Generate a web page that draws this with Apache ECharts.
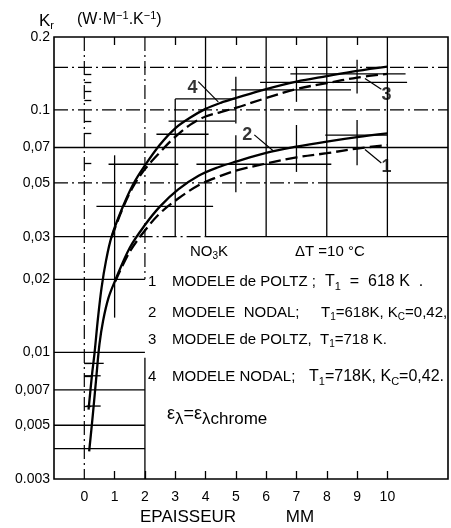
<!DOCTYPE html>
<html><head><meta charset="utf-8">
<script src="https://cdn.jsdelivr.net/npm/echarts@6/dist/echarts.min.js"></script>
<style>html,body{margin:0;padding:0;background:#fff}#c{width:451px;height:528px}</style>
</head><body><div id="c"></div>
<script>
// ---------- axes ----------
const xTickLabels = [0,1,2,3,4,5,6,7,8,9,10];
const xBottomTicks = [1,2,3,4,5,6,7,8,9,10];
const xTopTicks = [1,3,5,7,9];
const yTickValues = [0.2,0.1,0.07,0.05,0.03,0.02,0.01,0.007,0.005,0.003];
const yTickLabels = ['0.2','0.1','0,07','0,05','0,03','0,02','0,01','0,007','0,005','0.003'];
const yMinorTicks = [0.14,0.13,0.12,0.11,0.09,0.08,0.06,0.009,0.008,0.006];

// ---------- curves [x (mm), Kr] ----------
const curve1 = [[1.02,0.0196],[1.5,0.026],[2.0,0.0318],[2.5,0.0375],[3.1,0.0431],[3.77,0.0489],[4.42,0.053],[5,0.0562],[6,0.0601],[7,0.0637],[8,0.0663],[9,0.0693],[10,0.0716]];
const curve2 = [[0.16,0.0039],[0.28,0.0055],[0.40,0.0080],[0.50,0.0108],[0.62,0.0135],[0.80,0.0168],[1.02,0.0198],[1.5,0.027],[2.0,0.0335],[2.5,0.040],[3.1,0.047],[3.77,0.0535],[4.42,0.058],[5,0.0612],[6,0.0665],[7,0.0705],[8,0.074],[9,0.0772],[10,0.080]];
const curve3 = [[0.9,0.0298],[1.24,0.0385],[1.6,0.048],[2.0,0.057],[2.5,0.067],[3,0.0775],[3.5,0.087],[4,0.094],[4.5,0.098],[5,0.102],[6,0.112],[7,0.122],[8,0.129],[9,0.136],[10,0.141]];
const curve4 = [[0.14,0.0058],[0.25,0.0080],[0.34,0.0100],[0.45,0.0138],[0.57,0.0185],[0.72,0.0240],[0.90,0.0300],[1.24,0.0390],[1.6,0.049],[2.0,0.059],[2.5,0.072],[3,0.084],[3.5,0.093],[4,0.101],[4.5,0.107],[5,0.112],[6,0.122],[7,0.131],[8,0.138],[9,0.145],[10,0.151]];

// ---------- error bars ----------
const errH = [ // [x1, x2, y]
  [3.0,5.0,0.111],[4.85,8.8,0.121],[5.8,10.65,0.130],[6.8,10.6,0.141],
  [2.78,4.98,0.0899],[2.38,4.1,0.0794],[0.8,3.1,0.0597],[0.4,4.25,0.040],
  [3.7,8.15,0.0597],[7.95,10.02,0.0788],
  [0.0,0.64,0.009],[0.0,0.54,0.008],[0.07,0.54,0.006]
];
const errV = [ // [x, y1, y2]
  [3,0.111,0.030],[5,0.137,0.088],[7,0.150,0.108],[9,0.161,0.117],
  [1,0.065,0.0139],[5,0.0787,0.0458],[7,0.0867,0.0555],[9,0.0909,0.0591]
];

// ---------- grid segments ----------
const gridSolidH = [[-1,12,0.07],[-1,1,0.03],[4,12,0.03],[8,12,0.05],[-1,2,0.02],[-1,2,0.01],[-1,2,0.007],[-1,2,0.005],[-1,2,0.004]];
const gridDashH = [[-1,12,0.15],[-1,12,0.1],[-1,8,0.05],[1,4,0.03]];
const gridSolidV = [[4,0.2,0.03],[6,0.2,0.03],[8,0.2,0.03],[10,0.2,0.03],[2,0.0095,0.003]];
const gridDashV = [[0,0.2,0.003],[2,0.2,0.02]];

// ---------- curve labels ----------
const curveNames = ['1','2','3','4'];
const curveLabelPos = [[9.97,0.0582],[5.38,0.0788],[9.97,0.1148],[3.57,0.1236]];
const leaders = [[9.26,0.0687,9.80,0.0604],[5.61,0.0789,6.24,0.0677],[9.26,0.1349,9.80,0.1218],[3.76,0.1308,4.42,0.1079]];

const FONT = "'Liberation Sans', Arial, sans-serif";
const hSeg = a => a.map(d => [d[0], d[2], d[1], d[2]]);
const vSeg = a => a.map(d => [d[0], d[1], d[0], d[2]]);

function segSeries(data, dash, width) {
  return {
    type: 'custom', xAxisIndex: 0, yAxisIndex: 0, clip: true, silent: true,
    encode: {x: [0, 2], y: [1, 3]},
    data: data,
    renderItem: function (params, api) {
      const p1 = api.coord([api.value(0), api.value(1)]);
      const p2 = api.coord([api.value(2), api.value(3)]);
      return {type: 'line', shape: {x1: p1[0], y1: p1[1], x2: p2[0], y2: p2[1]},
        style: {stroke: '#000', lineWidth: width, lineDash: dash}};
    }
  };
}
function curveSeries(data, dashed) {
  return {type: 'line', data: data, smooth: 0.35, showSymbol: false, symbol: 'none', silent: true,
    xAxisIndex: 0, yAxisIndex: 0,
    lineStyle: {color: '#000', width: 2.3, type: dashed ? [12, 5] : 'solid'}};
}

function txt(x, y, text, size, subSize) {
  const n = size || 15, s = subSize || 10;
  const r = {
    n: {fontFamily: FONT, fontSize: n, color: '#000'},
    s: {fontFamily: FONT, fontSize: s, color: '#000', padding: [Math.round(n * 0.55), 0, 0, 0]},
    u: {fontFamily: FONT, fontSize: s, color: '#000', padding: [0, 0, Math.round(n * 0.55), 0]}
  };
  return {type: 'text', x: x, y: y, silent: true,
    style: {text: text, rich: r, fill: '#000', verticalAlign: 'middle', align: 'left', font: n + 'px ' + FONT}};
}

const chart = echarts.init(document.getElementById('c'), null, {renderer: 'canvas'});
chart.setOption({
  animation: false,
  backgroundColor: '#fff',
  grid: {left: 54, top: 37, right: 3, bottom: 49, show: true, borderColor: '#000', borderWidth: 1.6, backgroundColor: 'transparent'},
  xAxis: [{
    type: 'value', min: -1, max: 12, interval: 1, position: 'bottom',
    axisLine: {show: false},
    splitLine: {show: false},
    axisTick: {show: true, inside: true, length: 8, customValues: xBottomTicks, lineStyle: {color: '#000', width: 1.3}},
    axisLabel: {show: true, customValues: xTickLabels, margin: 11, color: '#000', fontFamily: FONT, fontSize: 14}
  }, {
    type: 'value', min: -1, max: 12, interval: 1, position: 'top',
    axisLine: {show: false}, splitLine: {show: false},
    axisTick: {show: true, inside: true, length: 8, customValues: xTopTicks, lineStyle: {color: '#000', width: 1.3}},
    axisLabel: {show: false}
  }],
  yAxis: [{
    type: 'log', logBase: 10, min: 0.003, max: 0.2, position: 'left',
    axisLine: {show: false}, splitLine: {show: false},
    axisTick: {show: true, inside: true, length: 7, customValues: yMinorTicks, lineStyle: {color: '#000', width: 1.3}},
    axisLabel: {show: true, customValues: yTickValues, margin: 4, color: '#000', fontFamily: FONT, fontSize: 14,
      formatter: function (v) {
        for (let i = 0; i < yTickValues.length; i++) {
          if (Math.abs(yTickValues[i] - v) / yTickValues[i] < 1e-4) return yTickLabels[i];
        }
        return '';
      }}
  }],
  series: [
    segSeries(hSeg(gridSolidH), null, 1.3),
    segSeries(hSeg(gridDashH), [14, 4, 2, 4], 1.2),
    segSeries(vSeg(gridSolidV), null, 1.3),
    segSeries(vSeg(gridDashV), [14, 4, 2, 4], 1.2),
    segSeries(hSeg(errH), null, 1.3),
    segSeries(vSeg(errV), null, 1.3),
    segSeries(leaders, null, 1.2),
    curveSeries(curve1, true),
    curveSeries(curve2, false),
    curveSeries(curve3, true),
    curveSeries(curve4, false),
    {
      type: 'scatter', xAxisIndex: 0, yAxisIndex: 0, silent: true, symbolSize: 1,
      itemStyle: {color: 'rgba(0,0,0,0)'},
      data: curveLabelPos.map((p, i) => ({value: p, name: curveNames[i]})),
      label: {show: true, position: 'inside', formatter: p => p.name, color: '#000', fontFamily: FONT, fontSize: 18, fontWeight: 'bold'}
    }
  ],
  graphic: [
    txt(39, 21, '{n|K}{s|r}', 17, 11),
    txt(77, 20, '{n|(W·M}{u|−1}{n|.K}{u|−1}{n|)}', 16, 11),
    txt(190, 252, '{n|NO}{s|3}{n|K}'),
    txt(295, 252, '{n|ΔT =10 °C}'),
    txt(148, 282, '{n|1}'), txt(172, 282, '{n|MODELE de POLTZ ;}'), txt(325, 282, '{n|T}{s|1}{n|  =  618 K  .}', 16, 11),
    txt(148, 313, '{n|2}'), txt(172, 313, '{n|MODELE  NODAL;}'), txt(321, 313, '{n|T}{s|1}{n|=618K, K}{s|C}{n|=0,42,}', 15),
    txt(148, 340, '{n|3}'), txt(172, 340, '{n|MODELE de POLTZ,}'), txt(320, 340, '{n|T}{s|1}{n|=718 K.}'),
    txt(148, 377, '{n|4}'), txt(172, 377, '{n|MODELE NODAL;}'), txt(309, 377, '{n|T}{s|1}{n|=718K, K}{s|C}{n|=0,42.}', 16, 11),
    txt(167, 414, '{n|ε}{s|λ}{n|=ε}{s|λchrome}', 18, 17),
    {type: 'text', x: 188, y: 517, silent: true, style: {text: 'EPAISSEUR', font: '17px ' + FONT, fill: '#000', align: 'center', verticalAlign: 'middle'}},
    {type: 'text', x: 300, y: 517, silent: true, style: {text: 'MM', font: '17px ' + FONT, fill: '#000', align: 'center', verticalAlign: 'middle'}}
  ]
});
</script></body></html>
